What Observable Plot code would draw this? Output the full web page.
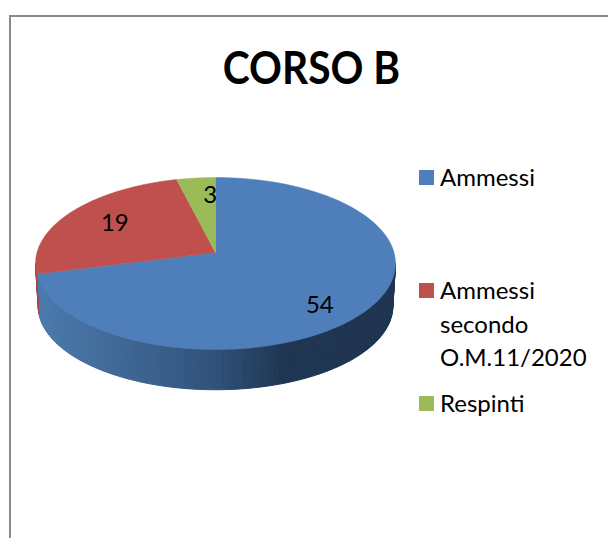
<!DOCTYPE html>
<html lang="it">
<head>
<meta charset="utf-8">
<script src="https://cdn.jsdelivr.net/npm/d3@7"></script>
<script src="https://cdn.jsdelivr.net/npm/@observablehq/plot@0.6"></script>
<style>
html,body{margin:0;padding:0;background:#fff;overflow:hidden}
#page{position:relative;width:608px;height:538px;font-family:Lato,"Open Sans",sans-serif;color:#000}
#frame{position:absolute;left:9px;top:15px;width:599px;height:523px;border-left:2px solid #8a8a8a;border-top:2px solid #8a8a8a;box-sizing:border-box}
#title{position:absolute;left:0;width:623px;top:39px;text-align:center;font-weight:700;font-size:45px;line-height:56px;transform:scaleX(0.905);transform-origin:311.5px 0}
#chart{position:absolute;left:0;top:0}
.sw{position:absolute;left:419px;width:15px;height:15px}
.lg{position:absolute;left:440px;font-size:24px;line-height:33.5px;white-space:nowrap}
</style>
</head>
<body>
<div id="page">
  <div id="frame"></div>
  <div id="chart"></div>
  <div id="title"></div>
  <div id="legend"></div>
</div>
<script>
const chartTitle = "CORSO B";
const categories = ["Ammessi", "Ammessi secondo O.M.11/2020", "Respinti"];
const legendLines = [["Ammessi"], ["Ammessi", "secondo", "O.M.11/2020"], ["Respinti"]];
const values = [54, 19, 3];
const colors = ["#4f7fbb", "#bf504d", "#9bbb59"];
const labelNudge = [[0, 14], [2, 0], [9, -3]];

const k = 0.128;                 // perspective of the tilted disc
const total = d3.sum(values);
const ends = d3.cumsum(values).map(v => v / total * 2 * Math.PI);
const starts = ends.map((e, i) => i ? ends[i - 1] : 0);

function topRim(a, r = 1) {
  const X = r * Math.sin(a), Y = r * Math.cos(a), w = 1 + k * Y;
  return {x: X / w, y: Y / w};
}
function baseRim(a) {
  const p = topRim(a);
  return {x: p.x * 0.985, y: p.y * 0.97 - 0.51};
}
function arc(a0, a1, n) {
  return d3.range(n + 1).map(i => a0 + (a1 - a0) * i / n);
}

// upper faces
const faces = categories.flatMap((c, i) => {
  const pts = [{x: 0, y: 0}, ...arc(starts[i], ends[i], 120).map(a => topRim(a)), {x: 0, y: 0}];
  return pts.map(p => ({...p, c, fill: colors[i]}));
});

// side wall between the two silhouette points, shaded from left to right
const shade = d3.scaleLinear()
  .domain([-1, -0.5, 0, 0.4, 1])
  .range(["#4b7aae", "#3f6794", "#30527c", "#1f3552", "#1f3450"]);
const wallAngles = arc(97.4, 262.6, 110).map(d => d * Math.PI / 180);
const seam = ends[0] + 2 * Math.PI / 180;
const walls = wallAngles.slice(0, -1).flatMap((a, i) => {
  const b = wallAngles[i + 1];
  const fill = (a + b) / 2 < seam ? shade(topRim(a).x) : d3.color(colors[1]).darker(0.4).formatHex();
  return [topRim(a), topRim(b), baseRim(b), baseRim(a), topRim(a)].map(p => ({...p, s: i, fill}));
});

// value labels at the middle of each slice
const labels = values.map((v, i) => ({...topRim((starts[i] + ends[i]) / 2, 0.7), v, n: labelNudge[i]}));

const plot = Plot.plot({
  width: 608,
  height: 538,
  margin: 0,
  x: {axis: null, domain: [-1, 1], range: [36.5, 393.5]},
  y: {axis: null, domain: [-1, 1], range: [336.6, 167.4]},
  marks: [
    Plot.line(walls, {x: "x", y: "y", z: "s", fill: "fill", stroke: "fill", strokeWidth: 1, curve: "linear"}),
    Plot.line(faces, {x: "x", y: "y", z: "c", fill: "fill", stroke: "fill", strokeWidth: 0.5, curve: "linear"}),
    ...labels.map(l => Plot.text([l], {
      x: "x", y: "y", text: "v", dx: l.n[0], dy: l.n[1],
      fontSize: 24, fontFamily: "Lato, 'Open Sans', sans-serif", fill: "#000"
    }))
  ]
});
document.getElementById("chart").append(plot);
document.getElementById("title").textContent = chartTitle;

const swatchTops = [170, 283, 396];
const legendBox = document.getElementById("legend");
categories.forEach((c, i) => {
  const sw = document.createElement("div");
  sw.className = "sw"; sw.style.top = swatchTops[i] + "px"; sw.style.background = colors[i];
  const t = document.createElement("div");
  t.className = "lg"; t.style.top = (swatchTops[i] - 10) + "px";
  t.innerHTML = legendLines[i].join("<br>");
  legendBox.append(sw, t);
});
</script>
</body>
</html>
